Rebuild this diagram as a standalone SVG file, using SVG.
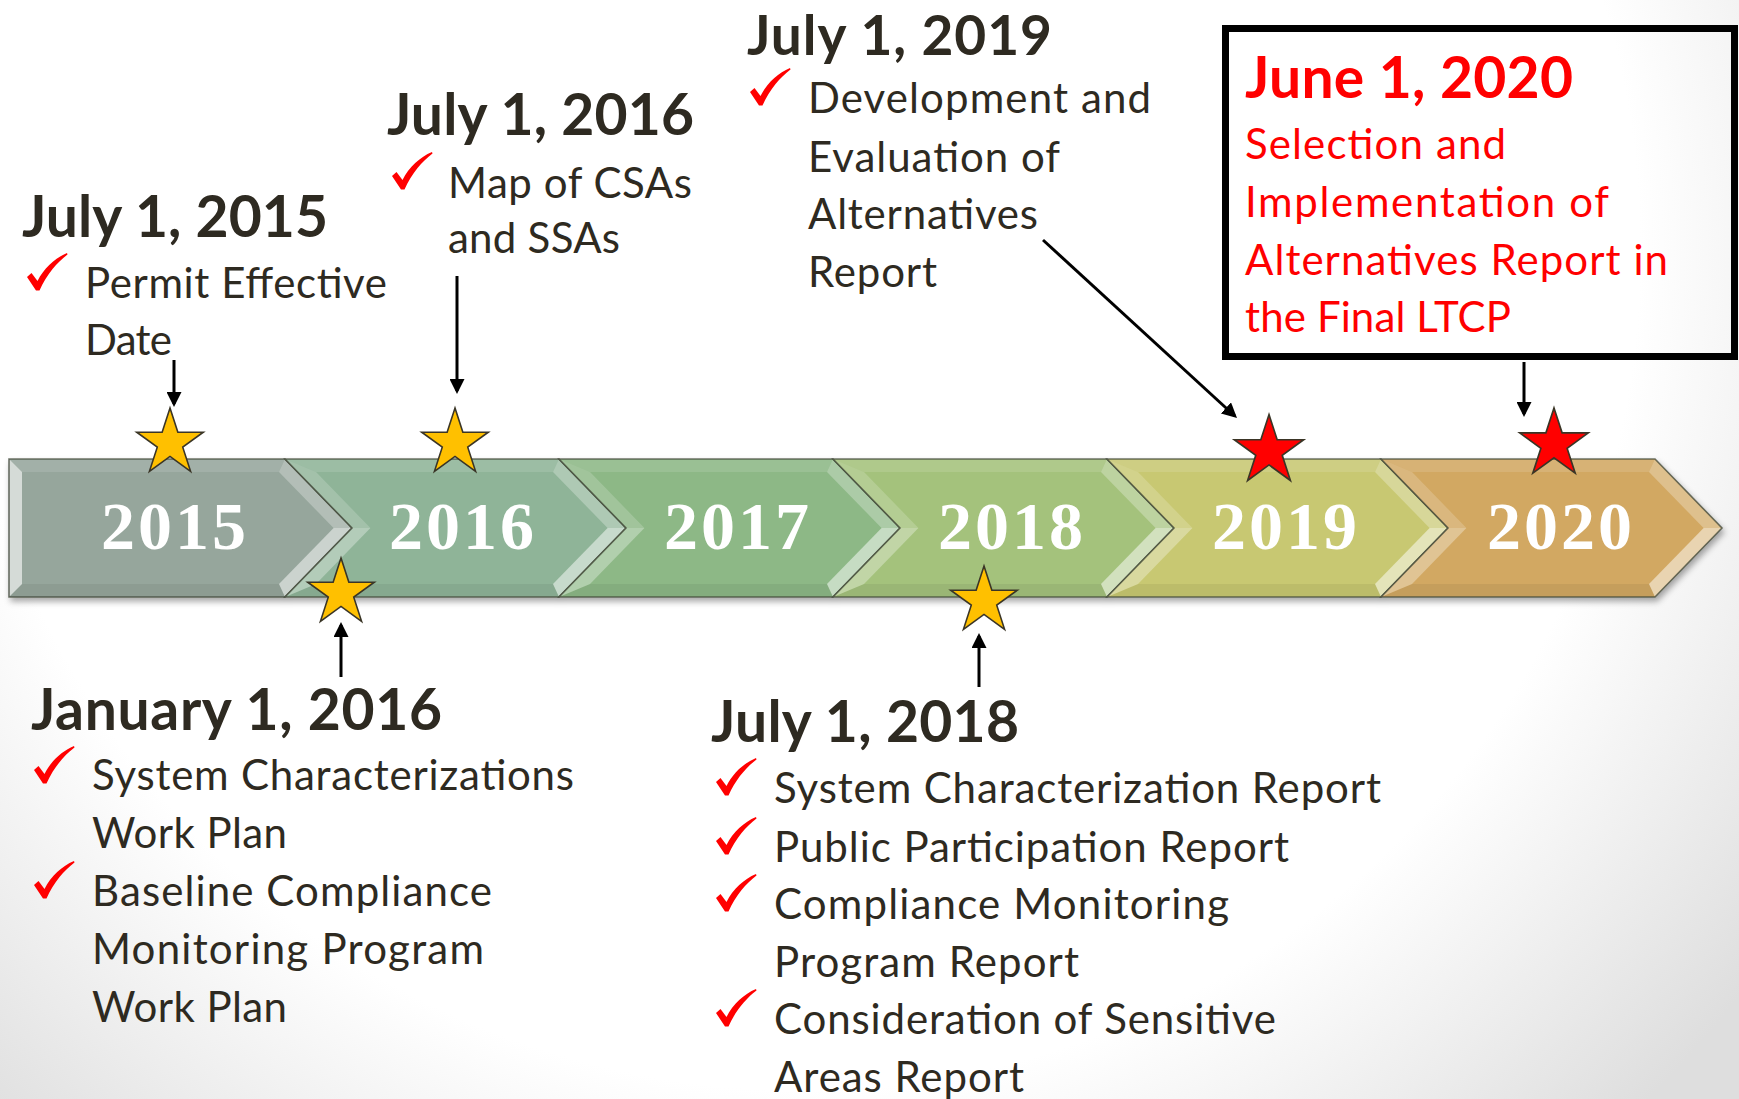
<svg xmlns="http://www.w3.org/2000/svg" xmlns:xlink="http://www.w3.org/1999/xlink" width="1739" height="1099" viewBox="0 0 1739 1099">
<defs>
  <radialGradient id="bg" gradientUnits="userSpaceOnUse" cx="800" cy="250" r="1200">
    <stop offset="0.7" stop-color="#ffffff"/>
    <stop offset="1" stop-color="#dedede"/>
  </radialGradient>
  <filter id="shadow" x="-5%" y="-20%" width="110%" height="150%">
    <feDropShadow dx="2" dy="4" stdDeviation="3" flood-color="#000" flood-opacity="0.35"/>
  </filter>
  <marker id="ah" viewBox="0 0 10 10" refX="8" refY="5" markerWidth="15" markerHeight="15" markerUnits="userSpaceOnUse" orient="auto">
    <path d="M0,0 L10,5 L0,10 z" fill="#000"/>
  </marker>
  <polygon id="star" points="0,-35 7.86,-10.82 33.29,-10.82 12.72,4.13 20.57,28.32 0,13.37 -20.57,28.32 -12.72,4.13 -33.29,-10.82 -7.86,-10.82"/>
  <path id="chk" d="M0,24 L4.5,20 L10.5,28 C17,15 28,5 40,0 L40.5,1.5 C30,9.5 20,21 12.5,37.5 L9,37.5 Z" fill="#ff0000"/>
  <g id="chev">
    <polygon class="face" points="0,459 274,459 341,528 274,597 0,597 67,528"/>
    <polygon class="bv-t" points="0,459 274,459 268,472 31,472"/>
    <polygon class="bv-ur" points="274,459 341,528 322.6,528 268,472"/>
    <polygon class="bv-lr" points="341,528 274,597 268,584 322.6,528"/>
    <polygon class="bv-b" points="274,597 0,597 31,584 268,584"/>
    <polygon class="bv-ll" points="0,597 67,528 85.4,528 31,584"/>
    <polygon class="bv-ul" points="67,528 0,459 31,472 85.4,528"/>
    <polygon class="edge" points="0,459 274,459 341,528 274,597 0,597 67,528"/>
  </g>
  <style>
    .bv-t{fill:#fff;fill-opacity:.12}
    .bv-ur{fill:#fff;fill-opacity:.28}
    .bv-lr{fill:#fff;fill-opacity:.5}
    .bv-b{fill:#000;fill-opacity:.06}
    .bv-ll{fill:#fff;fill-opacity:.32}
    .bv-ul{fill:#fff;fill-opacity:.18}
    .bv-l{fill:#fff;fill-opacity:.6}
    .edge{fill:none;stroke:#3f4636;stroke-width:1.6;stroke-opacity:.75;stroke-linejoin:miter}
    .yr{font-family:"Liberation Serif","DejaVu Serif",serif;font-weight:bold;font-size:68px;fill:#fff;text-anchor:middle;letter-spacing:3px}
    .hd{font-family:Lato,"Open Sans","Liberation Sans",sans-serif;font-weight:bold;font-size:57px;fill:#2e2a21}
    .tx{font-family:Lato,"Open Sans","Liberation Sans",sans-serif;font-size:42px;fill:#2e2a21}
    .red{fill:#ff0000}
    .ys{fill:#ffc000;stroke:#3a3526;stroke-width:1.6;stroke-linejoin:miter}
    .rs{fill:#ff0000;stroke:#3a3526;stroke-width:1.6;stroke-linejoin:miter}
    .ar{stroke:#000;stroke-width:3;fill:none;marker-end:url(#ah)}
  </style>
</defs>

<rect x="0" y="0" width="1739" height="1099" fill="url(#bg)"/>

<!-- timeline band -->
<g id="timeline" filter="url(#shadow)">
  <g id="seg-2015">
    <polygon points="9,459 285,459 352,528 285,597 9,597" fill="#96a69c"/>
    <polygon class="bv-t" points="9,459 285,459 279,472 22,472"/>
    <polygon class="bv-ur" points="285,459 352,528 333.6,528 279,472"/>
    <polygon class="bv-lr" points="352,528 285,597 279,584 333.6,528"/>
    <polygon class="bv-b" points="285,597 9,597 22,584 279,584"/>
    <polygon class="bv-l" points="9,459 22,472 22,584 9,597"/>
    <polygon class="edge" points="9,459 285,459 352,528 285,597 9,597"/>
  </g>
  <g id="seg-2016"><use xlink:href="#chev" href="#chev" x="285" fill="#8fb498"/></g>
  <g id="seg-2017"><use xlink:href="#chev" href="#chev" x="559" fill="#8db886"/></g>
  <g id="seg-2018"><use xlink:href="#chev" href="#chev" x="833" fill="#a4c27c"/></g>
  <g id="seg-2019"><use xlink:href="#chev" href="#chev" x="1107" fill="#c8c872"/></g>
  <g id="seg-2020"><use xlink:href="#chev" href="#chev" x="1381" fill="#d2a862"/></g>
</g>
<g id="year-labels">
  <text class="yr" x="175" y="549">2015</text>
  <text class="yr" x="463" y="549">2016</text>
  <text class="yr" x="738" y="549">2017</text>
  <text class="yr" x="1012" y="549">2018</text>
  <text class="yr" x="1286" y="549">2019</text>
  <text class="yr" x="1561" y="549">2020</text>
</g>

<!-- stars -->
<g id="stars">
  <use xlink:href="#star" href="#star" class="ys" transform="translate(170,443)"/>
  <use xlink:href="#star" href="#star" class="ys" transform="translate(455,443)"/>
  <use xlink:href="#star" href="#star" class="ys" transform="translate(341,593)"/>
  <use xlink:href="#star" href="#star" class="ys" transform="translate(984,601)"/>
  <use xlink:href="#star" href="#star" class="rs" transform="translate(1269,451) scale(1.04)"/>
  <use xlink:href="#star" href="#star" class="rs" transform="translate(1554,444) scale(1.03)"/>
</g>

<!-- connectors -->
<g id="connectors">
  <line class="ar" x1="174" y1="360" x2="174" y2="404"/>
  <line class="ar" x1="457" y1="276" x2="457" y2="391"/>
  <line class="ar" x1="341" y1="677" x2="341" y2="625"/>
  <line class="ar" x1="979" y1="687" x2="979" y2="636"/>
  <line class="ar" x1="1043" y1="240" x2="1234.8" y2="416"/>
  <line class="ar" x1="1524" y1="362" x2="1524" y2="414"/>
</g>

<!-- milestone text blocks -->
<g id="m-2015-07">
  <text class="hd" x="22" y="237" textLength="306">July 1, 2015</text>
  <use xlink:href="#chk" href="#chk" x="27" y="253"/>
  <text class="tx" x="85" y="298" textLength="302">Permit Effective</text>
  <text class="tx" x="85" y="355" textLength="87">Date</text>
</g>

<g id="m-2016-07">
  <text class="hd" x="387" y="135" textLength="307">July 1, 2016</text>
  <use xlink:href="#chk" href="#chk" x="392" y="152"/>
  <text class="tx" x="448" y="198" textLength="244">Map of CSAs</text>
  <text class="tx" x="448" y="253" textLength="172">and SSAs</text>
</g>

<g id="m-2019-07">
  <text class="hd" x="747" y="55" font-size="55" style="font-size:55px" textLength="305">July 1, 2019</text>
  <use xlink:href="#chk" href="#chk" x="750" y="68"/>
  <text class="tx" x="808" y="113" textLength="343">Development and</text>
  <text class="tx" x="808" y="172" textLength="252">Evaluation of</text>
  <text class="tx" x="808" y="229" textLength="230">Alternatives</text>
  <text class="tx" x="808" y="287" textLength="129">Report</text>
</g>

<g id="m-2020-06">
  <rect x="1225.5" y="28.5" width="509" height="328" fill="none" stroke="#000" stroke-width="7"/>
  <text class="hd red" x="1245" y="98" textLength="328">June 1, 2020</text>
  <text class="tx red" x="1245" y="159" textLength="261">Selection and</text>
  <text class="tx red" x="1245" y="217" textLength="364">Implementation of</text>
  <text class="tx red" x="1245" y="275" textLength="423">Alternatives Report in</text>
  <text class="tx red" x="1245" y="332" textLength="266">the Final LTCP</text>
</g>

<g id="m-2016-01">
  <text class="hd" x="31" y="730" textLength="411">January 1, 2016</text>
  <use xlink:href="#chk" href="#chk" x="34" y="746"/>
  <text class="tx" x="92" y="790" textLength="482">System Characterizations</text>
  <text class="tx" x="92" y="848" textLength="195">Work Plan</text>
  <use xlink:href="#chk" href="#chk" x="34" y="861"/>
  <text class="tx" x="92" y="906" textLength="400">Baseline Compliance</text>
  <text class="tx" x="92" y="964" textLength="392">Monitoring Program</text>
  <text class="tx" x="92" y="1022" textLength="195">Work Plan</text>
</g>

<g id="m-2018-07">
  <text class="hd" x="711" y="742" textLength="308">July 1, 2018</text>
  <use xlink:href="#chk" href="#chk" x="716" y="758"/>
  <text class="tx" x="774" y="803" textLength="607">System Characterization Report</text>
  <use xlink:href="#chk" href="#chk" x="716" y="817"/>
  <text class="tx" x="774" y="862" textLength="515">Public Participation Report</text>
  <use xlink:href="#chk" href="#chk" x="716" y="874"/>
  <text class="tx" x="774" y="919" textLength="455">Compliance Monitoring</text>
  <text class="tx" x="774" y="977" textLength="305">Program Report</text>
  <use xlink:href="#chk" href="#chk" x="716" y="989"/>
  <text class="tx" x="774" y="1034" textLength="502">Consideration of Sensitive</text>
  <text class="tx" x="774" y="1092" textLength="250">Areas Report</text>
</g>
</svg>
